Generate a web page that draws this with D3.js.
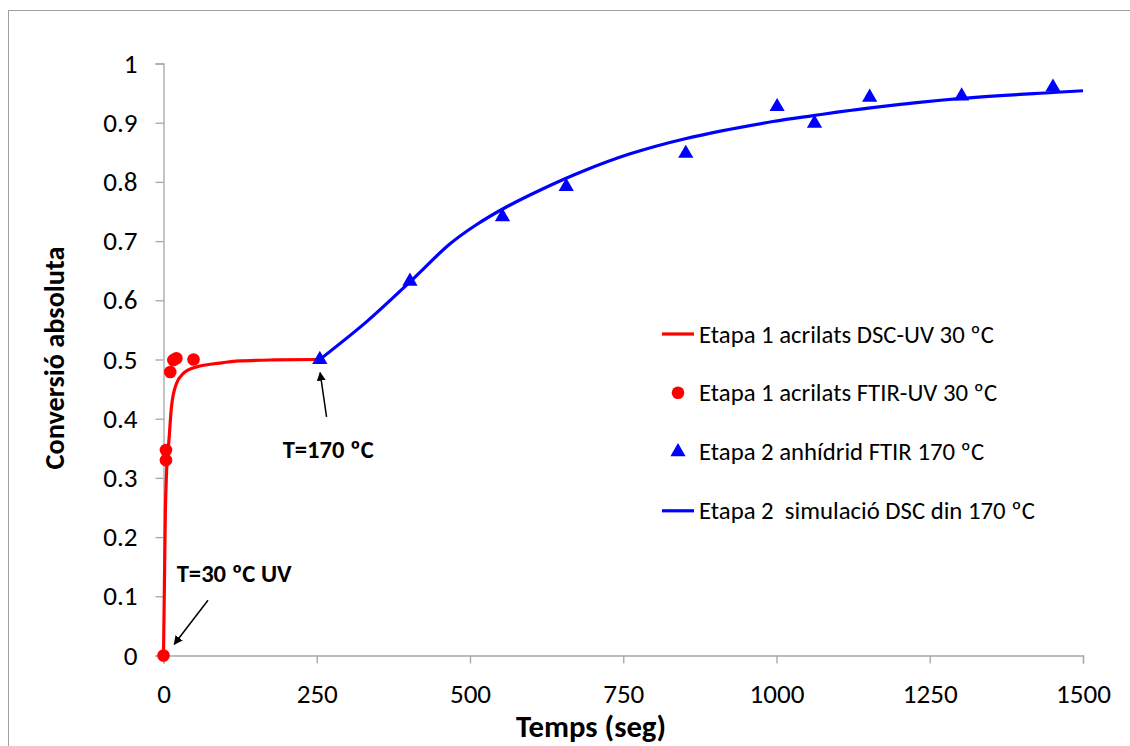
<!DOCTYPE html>
<html>
<head>
<meta charset="utf-8">
<script src="https://cdn.jsdelivr.net/npm/d3@7"></script>
<style>
  html, body { margin: 0; padding: 0; background: #fff; }
  svg { display: block; }
  text { font-family: Carlito, Lato, "Liberation Sans", sans-serif; }
</style>
</head>
<body>
<svg id="chart" width="1130" height="746"></svg>
<script>
// ---- data ----
const xTicks = [0, 250, 500, 750, 1000, 1250, 1500];
const yTicks = [0, 0.1, 0.2, 0.3, 0.4, 0.5, 0.6, 0.7, 0.8, 0.9, 1];
const yTickLabels = ["0", "0.1", "0.2", "0.3", "0.4", "0.5", "0.6", "0.7", "0.8", "0.9", "1"];

// Etapa 1 acrilats DSC-UV 30 ºC (line)
const dscUvTime = [0, 1.5, 3, 5, 9, 13, 21, 32, 54, 92, 125, 180, 255];
const dscUvConv = [0, 0.12, 0.24, 0.31, 0.365, 0.42, 0.459, 0.476, 0.4875, 0.494, 0.4976, 0.4993, 0.5];

// Etapa 1 acrilats FTIR-UV 30 ºC (circles)
const ftirUvTime = [0, 4, 4, 11, 16, 21, 49];
const ftirUvConv = [0, 0.347, 0.330, 0.479, 0.499, 0.502, 0.500];

// Etapa 2 anhídrid FTIR 170 ºC (triangles)
const ftirAnhTime = [255, 402, 553, 657, 852, 1001, 1062, 1152, 1302, 1451];
const ftirAnhConv = [0.5, 0.632, 0.741, 0.792, 0.848, 0.927, 0.899, 0.943, 0.945, 0.960];

// Etapa 2 simulació DSC din 170 ºC (line)
const simTime = [255, 331, 402, 467, 511, 560, 614, 684, 760, 851, 994, 1060, 1153, 1302, 1451, 1500];
const simConv = [0.5, 0.5635, 0.631, 0.695, 0.728, 0.758, 0.786, 0.818, 0.847, 0.873, 0.902, 0.912, 0.925, 0.941, 0.951, 0.954];

const seriesNames = [
  "Etapa 1 acrilats DSC-UV 30 ºC",
  "Etapa 1 acrilats FTIR-UV 30 ºC",
  "Etapa 2 anhídrid FTIR 170 ºC",
  "Etapa 2  simulació DSC din 170 ºC"
];
const xTitle = "Temps (seg)";
const yTitle = "Conversió absoluta";

// ---- layout ----
const svg = d3.select("#chart");
const RED = "#ff0000", BLUE = "#0000ff", AXIS = "#a6a6a6";
const FONT = "Carlito, Lato, sans-serif";

// scale a text's font-size so its rendered width matches a target width
function fit(sel, target) {
  const w = sel.node().getComputedTextLength();
  const fs = parseFloat(sel.attr("font-size"));
  if (w > 0) sel.attr("font-size", (fs * target / w).toFixed(2));
  return sel;
}

svg.append("rect").attr("x", 8.5).attr("y", 10.5).attr("width", 1130).attr("height", 760)
  .attr("fill", "none").attr("stroke", "#a0a0a0").attr("stroke-width", 1);

const x = d3.scaleLinear().domain([0, 1500]).range([163.5, 1083]);
const y = d3.scaleLinear().domain([0, 1]).range([655.5, 63.5]);

// axes
const xAxis = d3.axisBottom(x).tickValues(xTicks).tickSize(8).tickFormat(d3.format("d"));
const gx = svg.append("g").attr("transform", `translate(0,${y(0)})`).call(xAxis);
gx.select(".domain").attr("stroke", AXIS).attr("stroke-width", 1.3);
gx.selectAll(".tick line").attr("stroke", AXIS).attr("stroke-width", 1.3);
gx.selectAll(".tick text").attr("font-size", 24).attr("fill", "#000").style("font-family", FONT)
  .attr("y", 47).attr("dy", null);

const yAxis = d3.axisLeft(y).tickValues(yTicks).tickSize(8)
  .tickFormat((d, i) => yTickLabels[i]);
const gy = svg.append("g").attr("transform", `translate(${x(0)},0)`).call(yAxis);
gy.select(".domain").attr("stroke", AXIS).attr("stroke-width", 1.3);
gy.selectAll(".tick line").attr("stroke", AXIS).attr("stroke-width", 1.3);
gy.selectAll(".tick text").attr("font-size", 24).attr("fill", "#000").style("font-family", FONT)
  .attr("x", -26).attr("dy", null).attr("y", 8.5);

// fit tick label sizes to the reference width of "1500"
{
  const t = gx.selectAll(".tick text").filter(d => d === 1500);
  const w = t.node().getComputedTextLength();
  const fs = 24 * 55 / w;
  gx.selectAll(".tick text").attr("font-size", fs);
  gy.selectAll(".tick text").attr("font-size", fs);
}

// axis titles
fit(svg.append("text").attr("x", 591).attr("y", 737).attr("text-anchor", "middle")
  .attr("font-size", 26).attr("font-weight", "bold").text(xTitle), 150);
fit(svg.append("text").attr("transform", `translate(64,358) rotate(-90)`).attr("text-anchor", "middle")
  .attr("font-size", 26).attr("font-weight", "bold").text(yTitle), 223);

// lines
const dscUv = dscUvTime.map((t, i) => [t, dscUvConv[i]]);
const sim = simTime.map((t, i) => [t, simConv[i]]);
svg.append("path").datum(dscUv)
  .attr("d", d3.line().x(d => x(d[0])).y(d => y(d[1])).curve(d3.curveMonotoneX))
  .attr("fill", "none").attr("stroke", RED).attr("stroke-width", 3.2);
svg.append("path").datum(sim)
  .attr("d", d3.line().x(d => x(d[0])).y(d => y(d[1])).curve(d3.curveCatmullRom.alpha(0.5)))
  .attr("fill", "none").attr("stroke", BLUE).attr("stroke-width", 3.2);

// markers
const ftirUv = ftirUvTime.map((t, i) => [t, ftirUvConv[i]]);
svg.append("g").selectAll("circle").data(ftirUv).join("circle")
  .attr("cx", d => x(d[0])).attr("cy", d => y(d[1])).attr("r", 6.3).attr("fill", RED);

const tri = d3.symbol().type(d3.symbolTriangle).size(100);
const ftirAnh = ftirAnhTime.map((t, i) => [t, ftirAnhConv[i]]);
svg.append("g").selectAll("path").data(ftirAnh).join("path")
  .attr("d", tri).attr("transform", d => `translate(${x(d[0])},${y(d[1])})`).attr("fill", BLUE);

// annotations
const defs = svg.append("defs");
defs.append("marker").attr("id", "arr").attr("viewBox", "0 0 10 10").attr("refX", 9).attr("refY", 5)
  .attr("markerWidth", 6).attr("markerHeight", 6).attr("orient", "auto")
  .append("path").attr("d", "M0,0 L10,5 L0,10 z").attr("fill", "#000");

svg.append("line").attr("x1", x(266)).attr("y1", y(0.403)).attr("x2", x(255.5)).attr("y2", y(0.478))
  .attr("stroke", "#000").attr("stroke-width", 1.5).attr("marker-end", "url(#arr)");
fit(svg.append("text").attr("x", x(194.5)).attr("y", y(0.334)).attr("text-anchor", "start")
  .attr("font-size", 20).attr("font-weight", "bold").text("T=170 ºC"), 91);

svg.append("line").attr("x1", x(72.6)).attr("y1", y(0.0934)).attr("x2", x(17.5)).attr("y2", y(0.019))
  .attr("stroke", "#000").attr("stroke-width", 1.5).attr("marker-end", "url(#arr)");
fit(svg.append("text").attr("x", x(21.5)).attr("y", y(0.1247)).attr("text-anchor", "start")
  .attr("font-size", 20).attr("font-weight", "bold").text("T=30 ºC UV"), 115);

// legend
const legY = [334, 392.8, 451.8, 510.8];
const leg = svg.append("g");
leg.append("line").attr("x1", 662).attr("x2", 694).attr("y1", legY[0]).attr("y2", legY[0])
  .attr("stroke", RED).attr("stroke-width", 3.2);
leg.append("circle").attr("cx", 678).attr("cy", legY[1]).attr("r", 6.3).attr("fill", RED);
leg.append("path").attr("d", tri).attr("transform", `translate(678,${legY[2]})`).attr("fill", BLUE);
leg.append("line").attr("x1", 662).attr("x2", 694).attr("y1", legY[3]).attr("y2", legY[3])
  .attr("stroke", BLUE).attr("stroke-width", 3.2);
const legTexts = seriesNames.map((s, i) =>
  leg.append("text").attr("x", 699).attr("y", legY[i] + 8.5)
    .attr("font-size", 22).attr("xml:space", "preserve").style("white-space", "pre").text(s));
{
  const w = legTexts[0].node().getComputedTextLength();
  const fs = 22 * 295 / w;
  legTexts.forEach(t => t.attr("font-size", fs));
}
</script>
</body>
</html>
